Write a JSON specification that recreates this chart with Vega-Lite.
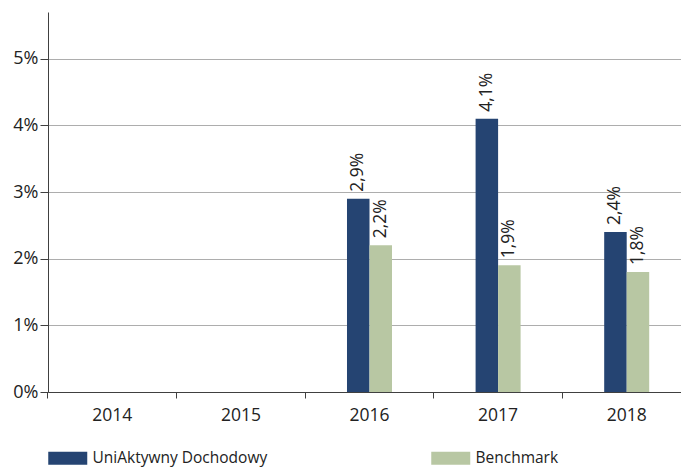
{
  "$schema": "https://vega.github.io/schema/vega-lite/v6.json",
  "width": 633,
  "height": 380,
  "autosize": {"type": "none"},
  "padding": {"left": 48, "top": 12, "right": 0, "bottom": 76},
  "config": {
    "locale": {"number": {"decimal": ",", "thousands": " ", "grouping": [3], "currency": ["", " zł"]}},
    "view": {"stroke": null},
    "font": "Open Sans"
  },
  "data": {
    "values": [
      {"year": "2016", "series": "UniAktywny Dochodowy", "value": 0.029},
      {"year": "2016", "series": "Benchmark", "value": 0.022},
      {"year": "2017", "series": "UniAktywny Dochodowy", "value": 0.041},
      {"year": "2017", "series": "Benchmark", "value": 0.019},
      {"year": "2018", "series": "UniAktywny Dochodowy", "value": 0.024},
      {"year": "2018", "series": "Benchmark", "value": 0.018}
    ]
  },
  "encoding": {
    "x": {
      "field": "year",
      "type": "nominal",
      "scale": {"domain": ["2014", "2015", "2016", "2017", "2018"], "paddingInner": 0.65, "paddingOuter": 0.325, "range": [0, 643]},
      "axis": {
        "title": null,
        "labelAngle": 0,
        "bandPosition": -0.929,
        "tickSize": 6,
        "grid": false,
        "domainColor": "#404040",
        "tickColor": "#404040",
        "labelColor": "#222222",
        "labelFontSize": 17.5,
        "labelPadding": 8
      }
    },
    "xOffset": {
      "field": "series",
      "scale": {"domain": ["UniAktywny Dochodowy", "Benchmark"], "paddingInner": 0, "paddingOuter": 0}
    },
    "y": {
      "field": "value",
      "type": "quantitative",
      "scale": {"domain": [0, 0.057], "nice": false},
      "axis": {
        "title": null,
        "format": ".0%",
        "values": [0, 0.01, 0.02, 0.03, 0.04, 0.05],
        "grid": true,
        "gridColor": "#ADADAD",
        "domainColor": "#404040",
        "tickColor": "#404040",
        "tickSize": 8,
        "labelPadding": 2,
        "labelFontSize": 18,
        "labelColor": "#222222"
      }
    }
  },
  "layer": [
    {
      "mark": {"type": "bar"},
      "encoding": {
        "color": {
          "field": "series",
          "type": "nominal",
          "scale": {"domain": ["UniAktywny Dochodowy", "Benchmark"], "range": ["#254472", "#B8C7A3"]},
          "legend": {
            "orient": "none",
            "legendX": -1,
            "legendY": 438,
            "direction": "horizontal",
            "columns": 2,
            "title": null,
            "symbolType": "M-1,-1H5V1H-1Z",
            "symbolSize": 169,
            "symbolStrokeWidth": 0,
            "symbolOpacity": 1,
            "labelOffset": 30,
            "labelFontSize": 15.5,
            "labelLimit": 400,
            "labelColor": "#222222",
            "columnPadding": 162,
            "padding": 0
          }
        }
      }
    },
    {
      "mark": {"type": "text", "angle": 270, "align": "left", "baseline": "middle", "dx": 7, "fontSize": 17.5, "color": "#222222"},
      "encoding": {
        "text": {"field": "value", "type": "quantitative", "format": ".1%"}
      }
    }
  ]
}
